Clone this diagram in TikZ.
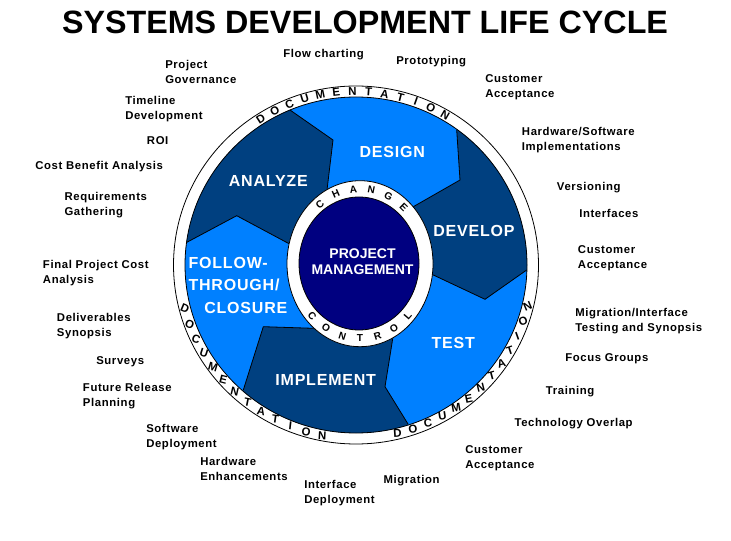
\documentclass[tikz,border=0pt]{standalone}
\usepackage{fontspec}
\setmainfont{Liberation Sans}
\usepackage{xcolor}
\usepackage{tikz}
\definecolor{sdlcdark}{HTML}{004080}
\definecolor{sdlclight}{HTML}{0080FF}
\definecolor{sdlcnavy}{HTML}{000080}

\begin{document}
\begin{tikzpicture}[
    x=0.75pt,y=-0.75pt,
    heading/.style = {font=\fontsize{24.2}{28}\selectfont\bfseries,inner sep=0pt},
    phase/.style   = {text=white,inner sep=0pt,
                      font=\fontsize{12}{16.9}\selectfont\bfseries\addfontfeature{LetterSpace=5}},
    core/.style    = {text=white,inner sep=0pt,align=center,
                      font=\fontsize{10.5}{12.5}\selectfont\bfseries},
    task/.style    = {anchor=north west,align=left,inner sep=0pt,
                      font=\fontsize{8.5}{11.25}\selectfont\bfseries\addfontfeature{LetterSpace=5.5}},
    ringtxt/.style = {font=\fontsize{8.6}{9}\selectfont\bfseries,inner sep=0pt},
    hubtxt/.style  = {font=\fontsize{7.6}{8}\selectfont\bfseries,inner sep=0pt},
    bord/.style    = {black,line width=0.6pt},
  ]
  \useasboundingbox (0,0) rectangle (731,541);

  % ── Title ─────────────────────────────────────────────────────────────────
  \node[heading] (title) at (365,22) {SYSTEMS DEVELOPMENT LIFE CYCLE};

  % ── Outer ring and wheel ──────────────────────────────────────────────────
  \draw[bord,fill=white] (356,265) ellipse [x radius=182.5,y radius=179];
  \fill[sdlclight] (356,265) ellipse [x radius=171,y radius=168];

  \coordinate (hub)  at (360,264);
  \coordinate (fa-i) at (288.3,243.3); \coordinate (fa-b) at (236.7,215.7); \coordinate (fa-o) at (185,243.3);
  \coordinate (ad-i) at (327,190);     \coordinate (ad-b) at (333,140);     \coordinate (ad-o) at (290,110);
  \coordinate (dd-i) at (413.3,206.7); \coordinate (dd-b) at (460,180);     \coordinate (dd-o) at (456.7,130);
  \coordinate (dt-i) at (433.3,275);   \coordinate (dt-b) at (485,299.3);   \coordinate (dt-o) at (526.7,270);
  \coordinate (ti-i) at (393.3,335);   \coordinate (ti-b) at (385,386.7);   \coordinate (ti-o) at (408,424);
  \coordinate (if-i) at (313.3,328.3); \coordinate (if-b) at (263.3,326.7); \coordinate (if-o) at (243.3,390);

  \begin{scope}
    \clip (356,265) ellipse [x radius=171,y radius=168];
    \fill[sdlcdark] (hub) -- (fa-i) -- (fa-b) -- (fa-o) -- (150,262) -- (150,60)
                    -- (247,80) -- (ad-o) -- (ad-b) -- (ad-i) -- cycle;
    \fill[sdlcdark] (hub) -- (dd-i) -- (dd-b) -- (dd-o) -- (454,90) -- (580,90)
                    -- (580,246) -- (560,246.6) -- (dt-o) -- (dt-b) -- (dt-i) -- cycle;
    \fill[sdlcdark] (hub) -- (ti-i) -- (ti-b) -- (ti-o) -- (425,452) -- (425,470)
                    -- (200,470) -- (230,432) -- (if-o) -- (if-b) -- (if-i) -- cycle;
    \foreach \s in {fa,ad,dd,dt,ti,if}
      \draw[bord] (\s-o) -- (\s-b) -- (\s-i) -- (hub);
  \end{scope}
  \draw[bord] (356,265) ellipse [x radius=171,y radius=168];

  % ── Inner ring and hub ────────────────────────────────────────────────────
  \draw[bord,fill=white] (360,263.7) ellipse [x radius=73,y radius=83];
  \draw[bord,fill=sdlcnavy] (359,263.5) ellipse [x radius=60,y radius=66.5];
  \node[core] (pm) at (362.5,261.7) {PROJECT\\MANAGEMENT};

  % ── Ring lettering ────────────────────────────────────────────────────────
  \foreach \ch [count=\i from 0] in {D,O,C,U,M,E,N,T,A,T,I,O,N} {
    \pgfmathsetmacro\t{122.6-5.24*\i}
    \pgfmathsetmacro\r{\t-90}
    \node[ringtxt,rotate=\r] (doca\i) at ({356+176.75*cos(\t)},{265-173.5*sin(\t)}) {\ch};
  }
  \foreach \ch [count=\i from 0] in {D,O,C,U,M,E,N,T,A,T,I,O,N} {
    \pgfmathsetmacro\t{194.5+5.375*\i}
    \pgfmathsetmacro\r{0.3*(\t-270)}
    \node[ringtxt,rotate=\r] (docb\i) at ({356+176.75*cos(\t)},{265-173.5*sin(\t)}) {\ch};
  }
  \foreach \ch [count=\i from 0] in {D,O,C,U,M,E,N,T,A,T,I,O,N} {
    \pgfmathsetmacro\t{283.6+5.22*\i}
    \pgfmathsetmacro\r{0.3*(\t-270)}
    \node[ringtxt,rotate=\r] (docc\i) at ({356+176.75*cos(\t)},{265-173.5*sin(\t)}) {\ch};
  }
  \foreach \ch [count=\i from 0] in {C,H,A,N,G,E} {
    \pgfmathsetmacro\t{127-15.6*\i}
    \pgfmathsetmacro\r{atan2(-74.75*cos(\t),66.5*sin(\t))}
    \node[hubtxt,rotate=\r] (chg\i) at ({360+66.5*cos(\t)},{263.7-74.75*sin(\t)}) {\ch};
  }
  \foreach \ch [count=\i from 0] in {C,O,N,T,R,O,L} {
    \pgfmathsetmacro\t{224+15.33*\i}
    \pgfmathsetmacro\r{atan2(74.75*cos(\t),-66.5*sin(\t))}
    \node[hubtxt,rotate=\r] (ctl\i) at ({360+66.5*cos(\t)},{263.7-74.75*sin(\t)}) {\ch};
  }

  % ── Phases ────────────────────────────────────────────────────────────────
  \node[phase] (design)  at (392.3,151.7) {DESIGN};
  \node[phase] (analyze) at (268.3,180.7) {ANALYZE};
  \node[phase] (develop) at (474,231)     {DEVELOP};
  \node[phase] (test)    at (453.3,343.3) {TEST};
  \node[phase] (impl)    at (325.7,380)   {IMPLEMENT};
  \node[phase,anchor=north west,align=left] (follow) at (188.3,256.8)
       {FOLLOW-\\THROUGH/\\\hspace*{11.8pt}CLOSURE};

  % ── Activities around the wheel ───────────────────────────────────────────
  \node[task] (gov)    at (165,60)      {Project\\Governance};
  \node[task] (flow)   at (283,49.5)    {Flow charting};
  \node[task] (proto)  at (396,56.5)    {Prototyping};
  \node[task] (acc1)   at (485,74)      {Customer\\Acceptance};
  \node[task] (time)   at (125,96)      {Timeline\\Development};
  \node[task] (hwsw)   at (521.7,126.7) {Hardware/Software\\Implementations};
  \node[task] (roi)    at (146.7,136)   {ROI};
  \node[task] (cba)    at (35,160.7)    {Cost Benefit Analysis};
  \node[task] (vers)   at (556.7,182.3) {Versioning};
  \node[task] (req)    at (64.3,191.7)  {Requirements\\Gathering};
  \node[task] (intf)   at (579,209)     {Interfaces};
  \node[task] (acc2)   at (577.7,245)   {Customer\\Acceptance};
  \node[task] (fpca)   at (42.7,260)    {Final Project Cost\\Analysis};
  \node[task] (migts)  at (575,307.7)   {Migration/Interface\\Testing and Synopsis};
  \node[task] (deliv)  at (56.7,312.7)  {Deliverables\\Synopsis};
  \node[task] (focus)  at (565,353.5)   {Focus Groups};
  \node[task] (surv)   at (96,356)      {Surveys};
  \node[task] (future) at (82.7,382.7)  {Future Release\\Planning};
  \node[task] (train)  at (545.7,386)   {Training};
  \node[task] (tech)   at (514.3,418.3) {Technology Overlap};
  \node[task] (swdep)  at (146,424)     {Software\\Deployment};
  \node[task] (acc3)   at (465,445)     {Customer\\Acceptance};
  \node[task] (hwenh)  at (200,457.3)   {Hardware\\Enhancements};
  \node[task] (migr)   at (383.3,475)   {Migration};
  \node[task] (ifdep)  at (304,480)     {Interface\\Deployment};

\end{tikzpicture}
\end{document}
